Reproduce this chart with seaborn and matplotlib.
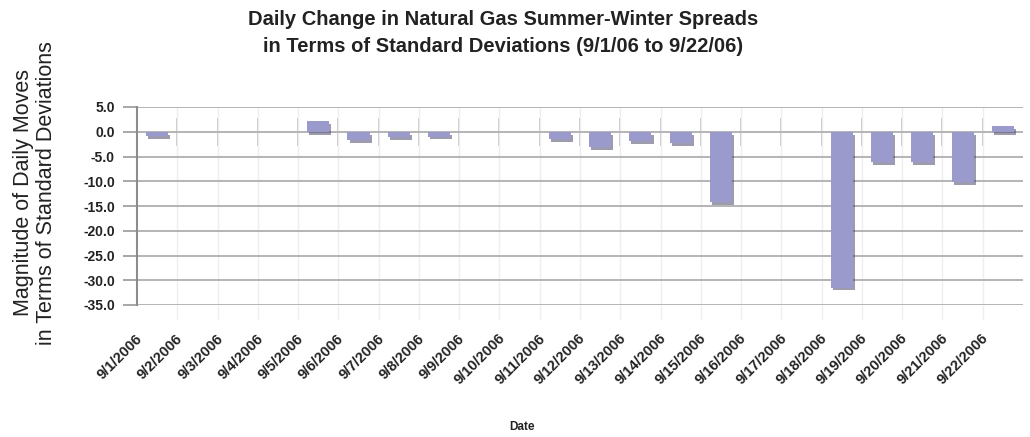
import numpy as np
import pandas as pd
import matplotlib
matplotlib.use("Agg")
import matplotlib.pyplot as plt
import matplotlib.patheffects as pe
from matplotlib.transforms import ScaledTranslation
import seaborn as sns

# ---- data ----
all_dates = ["9/1/2006", "9/2/2006", "9/3/2006", "9/4/2006", "9/5/2006", "9/6/2006",
             "9/7/2006", "9/8/2006", "9/9/2006", "9/10/2006", "9/11/2006", "9/12/2006",
             "9/13/2006", "9/14/2006", "9/15/2006", "9/16/2006", "9/17/2006", "9/18/2006",
             "9/19/2006", "9/20/2006", "9/21/2006", "9/22/2006"]
trade_dates = ["9/1/2006", "9/5/2006", "9/6/2006", "9/7/2006", "9/8/2006", "9/11/2006",
               "9/12/2006", "9/13/2006", "9/14/2006", "9/15/2006", "9/18/2006", "9/19/2006",
               "9/20/2006", "9/21/2006", "9/22/2006"]
std_moves = [-0.9, 2.2, -1.7, -1.1, -1.0, -1.5, -3.1, -1.9, -2.3, -14.2, -31.5, -6.2,
             -6.2, -10.1, 1.2]
y_ticks = [5.0, 0.0, -5.0, -10.0, -15.0, -20.0, -25.0, -30.0, -35.0]

title = "Daily Change in Natural Gas Summer-Winter Spreads\nin Terms of Standard Deviations (9/1/06 to 9/22/06)"
ylabel = "Magnitude of Daily Moves\nin Terms of Standard Deviations"
xlabel = "Date"

df = pd.DataFrame({"date": trade_dates, "value": std_moves})

sns.set_theme(style="white")
plt.rcParams["font.family"] = ["Liberation Sans Narrow", "Liberation Sans", "DejaVu Sans"]

fig = plt.figure(figsize=(10.30, 4.37), dpi=100)
ax = fig.add_axes([137 / 1030, 1 - 305 / 437, (1023 - 137) / 1030, (305 - 107) / 437])

sns.barplot(data=df, x="date", y="value", order=all_dates, color="#9A9ACC",
            saturation=1, width=0.55, ax=ax, zorder=3)
for p in ax.patches:
    p.set_edgecolor("none")
    p.set_path_effects([pe.SimplePatchShadow(offset=(1.5, -2), shadow_rgbFace="#3a3a5e", alpha=0.5),
                        pe.Normal()])

ax.set_ylim(-35, 5)
ax.set_xlim(-0.5, len(all_dates) - 0.5)
ax.set_yticks(y_ticks)
ax.set_yticklabels([f"{v:.1f}" for v in y_ticks], fontweight="bold", fontsize=10, color="#222222")
ax.yaxis.grid(True, color="#b4b4b4", linewidth=1.4, zorder=0)
ax.tick_params(axis="y", which="major", left=True, length=10, width=1.3, color="#a0a0a0", pad=6)

# category boundaries
bounds = np.arange(len(all_dates) - 1) + 0.5
ax.set_xticks(bounds, minor=True)
ax.xaxis.grid(True, which="minor", color="#eeeeee", linewidth=1.0, zorder=0)
ax.tick_params(axis="x", which="minor", bottom=True, length=10, width=1.0, color="#eeeeee")
ax.tick_params(axis="x", which="major", bottom=False, length=0, pad=19)

# short marks around the zero line
sec = ax.secondary_xaxis((0 - (-35)) / 40)
sec.set_xticks(bounds)
sec.tick_params(axis="x", direction="inout", length=20, width=1.2, color="#bdbdbd",
                labelbottom=False, labeltop=False)
for s in sec.spines.values():
    s.set_visible(False)

ax.set_xticklabels(all_dates, rotation=45, ha="right", fontsize=10.5, fontweight="bold", color="#222222")
shift = ScaledTranslation(-12 / 100, 0, fig.dpi_scale_trans)
for lab in ax.get_xticklabels():
    lab.set_transform(lab.get_transform() + shift)

for side in ["top", "right", "bottom"]:
    ax.spines[side].set_visible(False)
ax.spines["left"].set_color("#8c8c8c")
ax.spines["left"].set_linewidth(1.5)

ax.set_xlabel("")
ax.set_ylabel("")
fig.text(503 / 1030, 1 - 33 / 437, title, ha="center", va="center", fontsize=14.5,
         fontweight="bold", color="#222222", linespacing=1.55)
fig.text(35 / 1030, 1 - 193 / 437, ylabel, ha="center", va="center", rotation=90,
         fontsize=15.5, color="#222222", linespacing=1.1)
fig.text(522 / 1030, 1 - 427 / 437, xlabel, ha="center", va="center", fontsize=8.5,
         fontweight="bold", color="#222222")

fig.savefig("out.png", dpi=100, facecolor="white")
